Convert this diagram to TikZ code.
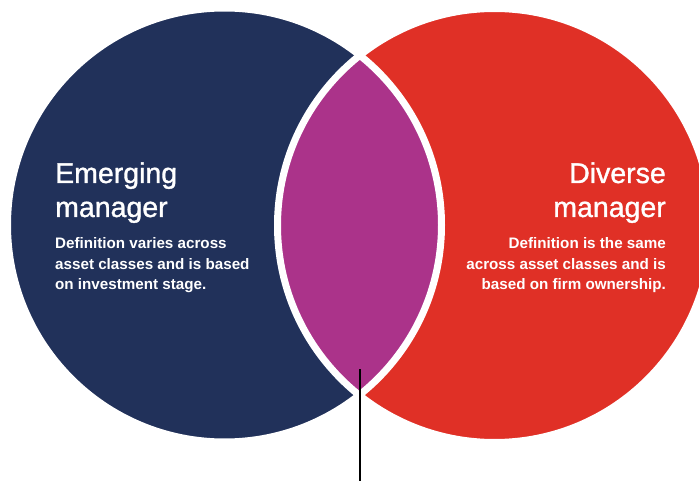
\documentclass[tikz,border=0pt]{standalone}
\usepackage{fontspec}
\setmainfont{Liberation Sans}
\newfontfamily\headsans{Liberation Sans}[FakeBold=1.2]
\definecolor{emnavy}{HTML}{21315A}
\definecolor{dvred}{HTML}{E03026}
\definecolor{lensmag}{HTML}{AB338A}
\begin{document}
\begin{tikzpicture}[x=1pt,y=-1pt,
  heading/.style={text=white, inner sep=0pt, font=\headsans\fontsize{28.5}{34}\selectfont},
  bodytext/.style={text=white, inner sep=0pt, font=\bfseries\fontsize{15.2}{20.3}\selectfont},
  gap/.style={draw=white, line width=7pt},
  stemline/.style={draw=black, line width=1.6pt}]
\useasboundingbox (0,0) rectangle (699,481);
\fill[white] (0,0) rectangle (699,481);
% the two sets
\coordinate (cl) at (224.5,225);
\coordinate (cr) at (494.5,225.5);
\fill[emnavy] (cl) circle (217pt);
\fill[dvred] (cr) circle (217pt);
% overlap
\begin{scope}
  \clip (cl) circle (217pt);
  \fill[lensmag] (cr) circle (217pt);
\end{scope}
% white separating rims
\path[gap] (cl) circle (217pt);
\path[gap] (cr) circle (217pt);
% left texts (multi-line nodes sit on their last baseline)
\node[heading, anchor=base west, align=left] (emtitle) at (55,217) {Emerging\\manager};
\node[bodytext, anchor=base west, align=left] (embody) at (55,289.5)
  {Definition varies across\\asset classes and is based\\on investment stage.};
% right texts
\node[heading, anchor=base east, align=right] (dvtitle) at (666,217) {Diverse\\manager};
\node[bodytext, anchor=base east, align=right] (dvbody) at (666,289.5)
  {Definition is the same\\across asset classes and is\\based on firm ownership.};
% pointer from the overlap
\coordinate (lensfoot) at (360,369);
\coordinate (stemend) at (360,481);
\path[stemline] (lensfoot) -- (stemend);
\end{tikzpicture}
\end{document}
